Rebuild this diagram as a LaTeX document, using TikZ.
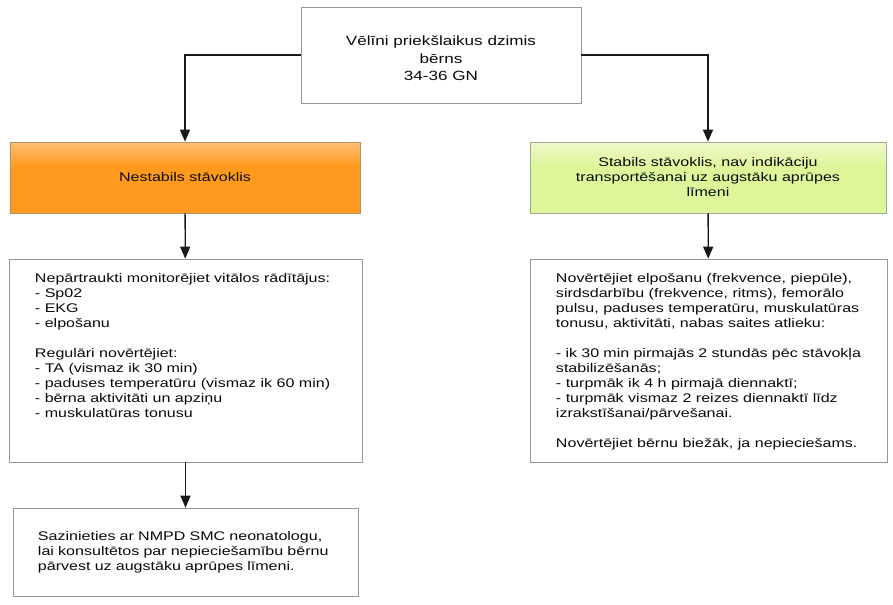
\documentclass[tikz,border=0pt]{standalone}
\usepackage{fontspec}
\setmainfont{Liberation Sans}[FakeStretch=1.28]
\usetikzlibrary{positioning, arrows.meta}

\definecolor{unstableTop}{RGB}{255,190,118}
\definecolor{unstableFill}{RGB}{255,154,30}
\definecolor{unstableLine}{RGB}{178,146,108}
\definecolor{stableTop}{RGB}{237,248,204}
\definecolor{stableFill}{RGB}{222,246,154}
\definecolor{stableLine}{RGB}{160,168,150}
\definecolor{boxLine}{RGB}{150,150,150}
\definecolor{txt}{RGB}{10,10,10}

\pgfdeclareverticalshading{unstableShade}{100bp}{color(0bp)=(unstableFill); color(25bp)=(unstableFill); color(58bp)=(unstableFill); color(75bp)=(unstableTop); color(100bp)=(unstableTop)}
\pgfdeclareverticalshading{stableShade}{100bp}{color(0bp)=(stableFill); color(25bp)=(stableFill); color(58bp)=(stableFill); color(75bp)=(stableTop); color(100bp)=(stableTop)}

\newcommand{\topalign}[3]{\parbox[c][#1][t]{#2}{#3}}

\tikzset{
  basebox/.style={draw=boxLine, line width=0.6pt, text=txt,
    font=\fontsize{10.7pt}{12.8pt}\selectfont},
  startbox/.style={basebox, fill=white, minimum width=8.4cm,
    minimum height=2.88cm, align=center,
    font=\fontsize{11.4pt}{15pt}\selectfont},
  unstablebox/.style={basebox, draw=unstableLine, shading=unstableShade,
    minimum width=10.5cm, minimum height=2.13cm, align=center},
  stablebox/.style={basebox, draw=stableLine, shading=stableShade,
    minimum width=10.68cm, minimum height=2.13cm, align=center},
  listbox/.style={basebox, fill=white, inner xsep=0.78cm, inner ysep=0.42cm},
  flow/.style={draw=black!90, line width=1.1pt,
    -{Triangle[width=0.3cm,length=0.36cm]}}
}

\begin{document}
\begin{tikzpicture}[x=0.03cm, y=-0.03cm]
\useasboundingbox (0,0) rectangle (893,604);

\node[startbox] (start) at (441,55)
    {\raisebox{-0.2cm}[0pt][0pt]{\parbox{7.4cm}{\centering
    Vēlīni priekšlaikus dzimis\\bērns\\34-36 GN}}};
\node[unstablebox] (unstable) at (185,177.5) {Nestabils stāvoklis};
\node[stablebox] (stable) at (708,177.5)
    {Stabils stāvoklis, nav indikāciju\\transportēšanai uz augstāku aprūpes\\līmeni};

\node[listbox] (monitor) at (185.5,360.5)
    {\topalign{5.25cm}{9.03cm}{%
    Nepārtraukti monitorējiet vitālos rādītājus:\\
    - Sp02\\
    - EKG\\
    - elpošanu\\[12.8pt]
    Regulāri novērtējiet:\\
    - TA (vismaz ik 30 min)\\
    - paduses temperatūru (vismaz ik 60 min)\\
    - bērna aktivitāti un apziņu\\
    - muskulatūras tonusu}};

\node[listbox] (assess) at (708.5,360.5)
    {\topalign{5.25cm}{9.15cm}{%
    Novērtējiet elpošanu (frekvence, piepūle),\\
    sirdsdarbību (frekvence, ritms), femorālo\\
    pulsu, paduses temperatūru, muskulatūras\\
    tonusu, aktivitāti, nabas saites atlieku:\\[12.8pt]
    - ik 30 min pirmajās 2 stundās pēc stāvokļa\\
    stabilizēšanās;\\
    - turpmāk ik 4 h pirmajā diennaktī;\\
    - turpmāk vismaz 2 reizes diennaktī līdz\\
    izrakstīšanai/pārvešanai.\\[12.8pt]
    Novērtējiet bērnu biežāk, ja nepieciešams.}};

\node[basebox, fill=white, text width=8.85cm, inner xsep=0.75cm,
    minimum height=2.64cm, align=left] (contact) at (185.5,552)
    {Sazinieties ar NMPD SMC neonatologu,\\
    lai konsultētos par nepieciešamību bērnu\\
    pārvest uz augstāku aprūpes līmeni.};

\draw[flow] (start.west) -| (unstable.north);
\draw[flow] (start.east) -| (stable.north);
\draw[flow] (unstable) -- (monitor);
\draw[flow] (stable) -- (assess);
\draw[flow] (monitor) -- (contact);
\end{tikzpicture}
\end{document}
